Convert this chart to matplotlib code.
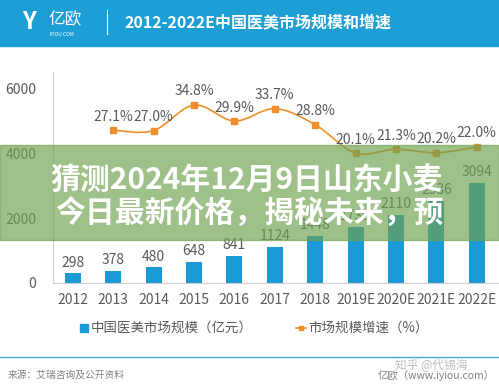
import matplotlib
matplotlib.use('Agg')
import matplotlib.pyplot as plt
from matplotlib.patches import Rectangle, PathPatch
from matplotlib.path import Path
import numpy as np

plt.rcParams['font.family'] = ['Noto Sans CJK SC', 'DejaVu Sans']

years = ['2012', '2013', '2014', '2015', '2016', '2017', '2018',
         '2019E', '2020E', '2021E', '2022E']
market = [298, 378, 480, 648, 841, 1124, 1448, 1739, 2110, 2536, 3094]
growth = [27.1, 27.0, 34.8, 29.9, 33.7, 28.8, 20.1, 21.3, 20.2, 22.0]
yticks = [0, 2000, 4000, 6000]

blue = '#1a9ad6'
orange = '#ef8f2a'
grey = '#5a5a5a'

W, H = 499, 387
fig = plt.figure(figsize=(W / 100, H / 100), dpi=100)

# header bar
fig.patches.append(Rectangle((0, 1 - 46 / H), 1, 46 / H, transform=fig.transFigure,
                             color='#1d9fd6', zorder=0))
fig.text(48 / W, 1 - 20 / H, '亿欧', color='white', fontsize=12, va='center')
fig.text(50 / W, 1 - 34 / H, 'IYIOU.COM', color='white', fontsize=3.5, va='center')
fig.text(22 / W, 1 - 22 / H, 'Y', color='white', fontsize=17, va='center', fontweight='bold')
fig.add_artist(plt.Line2D([107 / W, 107 / W], [1 - 10 / H, 1 - 34 / H], color='white', lw=0.8))
fig.text(125 / W, 1 - 22 / H, '2012-2022E中国医美市场规模和增速', color='white',
         fontsize=11.5, fontweight='bold', va='center')

# chart
ax = fig.add_axes([53 / W, 1 - 283 / H, 1 - 53 / W, (283 - 72) / H])
x = np.arange(len(years))
ax.bar(x, market, width=0.4, color=blue)
for xi, v in zip(x, market):
    ax.text(xi, v + 110, str(v), ha='center', va='bottom', fontsize=10, color=grey)
ax.set_ylim(0, 6500)
ax.set_xlim(-0.49, 10.55)
ax.set_yticks(yticks)
ax.set_xticks(x)
ax.set_xticklabels(years)
ax.tick_params(length=0, labelsize=10, colors=grey, pad=7)
ax.tick_params(axis='y', pad=12)
for s in ['top', 'right']:
    ax.spines[s].set_visible(False)
ax.spines['left'].set_color('#d0d0d0')
ax.spines['bottom'].set_color('#d0d0d0')

ax2 = ax.twinx()
# smooth curve through the growth points (Catmull-Rom as cubic Bezier)
gx = x[1:].astype(float)
gy = np.array(growth)
pts = np.column_stack([gx, gy])
verts = [pts[0]]
codes = [Path.MOVETO]
for i in range(len(pts) - 1):
    p0 = pts[i - 1] if i > 0 else pts[i]
    p1, p2 = pts[i], pts[i + 1]
    p3 = pts[i + 2] if i + 2 < len(pts) else pts[i + 1]
    verts += [p1 + (p2 - p0) / 6, p2 - (p3 - p1) / 6, p2]
    codes += [Path.CURVE4] * 3
ax2.add_patch(PathPatch(Path(verts, codes), fill=False, edgecolor=orange, lw=1.2))
ax2.plot(gx, gy, ls='none', marker='s', ms=4, color=orange)
for xi, v in zip(gx, growth):
    ax2.text(xi, v + 2.0, f'{v:.1f}%', ha='center', va='bottom', fontsize=10, color=grey)
ax2.set_ylim(-19.6, 44.9)
ax2.axis('off')

# legend
fig.patches.append(Rectangle((80 / W, 1 - 332 / H), 8 / W, 8 / H, transform=fig.transFigure,
                             color=blue))
fig.text(91 / W, 1 - 328 / H, '中国医美市场规模（亿元）', fontsize=9.7, color=grey, va='center')
fig.add_artist(plt.Line2D([296 / W, 306 / W], [1 - 328 / H, 1 - 328 / H], color=orange, lw=1.2))
fig.patches.append(Rectangle((299 / W, 1 - 330 / H), 4 / W, 4 / H, transform=fig.transFigure,
                             color=orange))
fig.text(308 / W, 1 - 328 / H, '市场规模增速（%）', fontsize=9.7, color=grey, va='center')

# footer
fig.add_artist(plt.Line2D([0, 1], [1 - 357 / H, 1 - 357 / H], color='#4aa8cf', lw=1))
fig.text(8 / W, 1 - 375 / H, '来源：艾瑞咨询及公开资料', fontsize=7, color='#808080', va='center')
fig.text(378 / W, 1 - 376 / H, '亿欧（www.iyiou.com）', fontsize=7.5, color='#808080', va='center')
fig.text(395 / W, 1 - 366 / H, '知乎 @代锡海', fontsize=8.5, color='#b0b0b0', va='center', alpha=0.8)

# overlay banner
fig.patches.append(Rectangle((0, 1 - 240 / H), 1, 95 / H, transform=fig.transFigure,
                             color='#6ea150', alpha=0.67, zorder=5))
fig.text(50 / W, 1 - 180 / H, '猜测2024年12月9日山东小麦', fontsize=21.5, fontweight='bold',
         color='white', va='center', zorder=6)
fig.text(55 / W, 1 - 213 / H, '今日最新价格，揭秘未来，预', fontsize=21.5, fontweight='bold',
         color='white', va='center', zorder=6)

fig.savefig('out.png', dpi=100)
